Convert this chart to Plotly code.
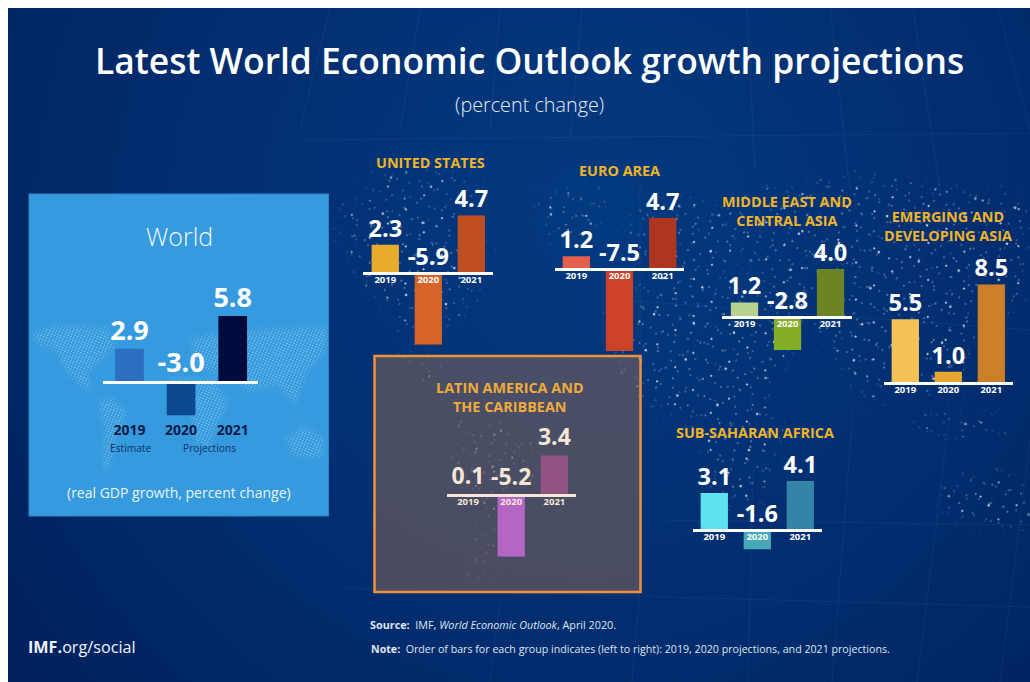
import base64
import plotly.graph_objects as go

W, H = 1030, 682
FONT = "Open Sans"

years = ["2019", "2020", "2021"]

world_values = [2.9, -3.0, 5.8]
united_states_values = [2.3, -5.9, 4.7]
euro_area_values = [1.2, -7.5, 4.7]
middle_east_values = [1.2, -2.8, 4.0]
emerging_asia_values = [5.5, 1.0, 8.5]
latin_america_values = [0.1, -5.2, 3.4]
sub_saharan_values = [3.1, -1.6, 4.1]

world_colors = ["#2a6fc0", "#0b4a90", "#000b3c"]
united_states_colors = ["#e8ab2c", "#d66428", "#bf4f20"]
euro_area_colors = ["#e4604d", "#cb4229", "#ae351f"]
middle_east_colors = ["#b7d28f", "#85ae28", "#6b8424"]
emerging_asia_colors = ["#f4c255", "#e5a72f", "#cc7f29"]
latin_america_colors = ["#b566c3", "#b566c3", "#925383"]
sub_saharan_colors = ["#5ee2ef", "#46a8b8", "#3484a8"]

# Page geometry of each small chart, in pixels: axis span, baseline height,
# pixels per percentage point, centre of the first bar, bar pitch and width.
panels = [
    dict(values=world_values, colors=world_colors, x0=103, x1=258, base=381.5, scale=11.3,
         first=129.5, pitch=51.6, width=28.7, label_size=27, tick_size=14, tick_color="#0a1a4a",
         tick_standoff=35, text_color="#ffffff", line_color="#ffffff", gap=2),
    dict(values=united_states_values, colors=united_states_colors, x0=363.3, x1=492.7, base=272.7, scale=12.2,
         first=385.3, pitch=43, width=27.3, label_size=23.5, tick_size=9.5, tick_color="#ffffff",
         tick_standoff=-3, text_color="#ffffff", line_color="#ffffff", gap=2),
    dict(values=euro_area_values, colors=euro_area_colors, x0=555, x1=684, base=269.3, scale=10.9,
         first=576.3, pitch=43.2, width=27.3, label_size=23.5, tick_size=9.5, tick_color="#ffffff",
         tick_standoff=-3, text_color="#ffffff", line_color="#ffffff", gap=2),
    dict(values=middle_east_values, colors=middle_east_colors, x0=722.3, x1=851.7, base=316.7, scale=11.9,
         first=744.5, pitch=43, width=27.3, label_size=23.5, tick_size=9.5, tick_color="#ffffff",
         tick_standoff=-3, text_color="#ffffff", line_color="#ffffff", gap=2),
    dict(values=emerging_asia_values, colors=emerging_asia_colors, x0=883.7, x1=1012.7, base=383.3, scale=11.65,
         first=905.3, pitch=43, width=27.3, label_size=23.5, tick_size=9.5, tick_color="#ffffff",
         tick_standoff=-3, text_color="#ffffff", line_color="#ffffff", gap=2),
    dict(values=latin_america_values, colors=latin_america_colors, x0=446.7, x1=575.7, base=495.3, scale=11.8,
         first=468, pitch=43.2, width=27.3, label_size=23, tick_size=9.5, tick_color="#f6e6d6",
         tick_standoff=-3, text_color="#f6e6d6", line_color="#f6e6d6", gap=0),
    dict(values=sub_saharan_values, colors=sub_saharan_colors, x0=692.7, x1=821.7, base=530.3, scale=12.0,
         first=714.3, pitch=43, width=27.3, label_size=23.5, tick_size=9.5, tick_color="#ffffff",
         tick_standoff=-3, text_color="#ffffff", line_color="#ffffff", gap=2),
]


def poly(points):
    return "M" + " L".join(f"{x},{y}" for x, y in points) + " Z"


# Rough continent outlines behind the charts, filled with dot patterns.
starfield_land = [
    [(340, 210), (400, 192), (465, 205), (488, 250), (482, 285), (450, 325), (428, 338), (412, 338), (398, 315), (370, 288), (345, 250)],
    [(355, 175), (430, 170), (495, 180), (465, 192), (385, 192)],
    [(392, 350), (426, 354), (446, 382), (430, 382)],
    [(535, 195), (595, 190), (604, 215), (575, 245), (550, 236)],
    [(455, 425), (498, 420), (538, 448), (528, 488), (500, 526), (486, 584), (474, 584), (484, 508), (460, 470)],
    [(612, 296), (690, 278), (782, 304), (792, 350), (762, 392), (782, 438), (762, 502), (734, 512), (706, 466), (696, 420), (646, 404), (616, 368)],
    [(628, 216), (698, 198), (752, 234), (716, 284), (656, 284)],
    [(728, 198), (850, 178), (1030, 198), (1030, 292), (974, 344), (954, 396), (930, 392), (902, 372), (872, 406), (846, 374), (816, 326), (766, 296)],
    [(900, 420), (996, 416), (1004, 434), (934, 434)],
    [(938, 494), (982, 472), (1030, 486), (1030, 532), (990, 524), (950, 518)],
]
inset_land = [
    [(30, 333), (60, 325), (108, 328), (116, 345), (100, 362), (88, 372), (92, 392), (82, 388), (66, 372), (55, 350), (38, 345)],
    [(98, 400), (112, 398), (127, 412), (118, 435), (108, 472), (103, 468), (104, 430)],
    [(190, 338), (240, 330), (327, 326), (327, 350), (306, 375), (296, 405), (276, 385), (252, 392), (234, 380), (215, 374), (195, 366)],
    [(168, 378), (215, 378), (228, 402), (208, 448), (196, 444), (190, 408), (172, 398)],
    [(285, 438), (305, 425), (325, 440), (322, 458), (292, 456)],
]
graticule = [
    ((582, 8), (570, 140)), ((747, 8), (755, 170)), ((830, 8), (850, 190)), ((913, 8), (940, 190)),
    ((998, 8), (1030, 130)), ((330, 8), (300, 130)), ((420, 8), (400, 130)), ((500, 8), (490, 130)),
    ((300, 140), (1030, 133)), ((753, 470), (748, 682)), ((853, 410), (832, 682)), ((950, 410), (917, 682)),
    ((660, 520), (1030, 525)), ((340, 588), (1030, 607)), ((640, 590), (632, 682)), ((500, 600), (490, 682)),
    ((1030, 440), (1000, 682)), ((620, 300), (1030, 330)), ((640, 180), (640, 350)),
]

star_path = " ".join(poly(p) for p in starfield_land)
inset_path = " ".join(poly(p) for p in inset_land)
grid_svg = "".join(
    f'<line x1="{a[0]}" y1="{a[1]}" x2="{b[0]}" y2="{b[1]}" stroke="#ffffff" stroke-opacity="0.05"/>'
    for a, b in graticule
)

background = f"""<svg xmlns="http://www.w3.org/2000/svg" width="{W}" height="{H}" viewBox="0 0 {W} {H}" preserveAspectRatio="none">
<defs>
<radialGradient id="sky" gradientUnits="userSpaceOnUse" cx="590" cy="220" r="720">
<stop offset="0" stop-color="#033a80"/><stop offset="0.55" stop-color="#022e70"/><stop offset="1" stop-color="#00215e"/>
</radialGradient>
<filter id="soft" x="-20%" y="-20%" width="140%" height="140%"><feGaussianBlur stdDeviation="8"/></filter>
<filter id="softer" x="-20%" y="-20%" width="140%" height="140%"><feGaussianBlur stdDeviation="2.5"/></filter>
<mask id="landmask" maskUnits="userSpaceOnUse" x="0" y="0" width="{W}" height="{H}">
<path d="{star_path}" fill="#ffffff" filter="url(#soft)"/>
</mask>
<mask id="insetmask" maskUnits="userSpaceOnUse" x="0" y="0" width="{W}" height="{H}">
<path d="{inset_path}" fill="#ffffff" filter="url(#softer)"/>
</mask>
<pattern id="d1" width="13" height="17" patternUnits="userSpaceOnUse" patternTransform="rotate(17)">
<circle cx="3" cy="4" r="0.8" fill="#fff" fill-opacity="0.55"/>
</pattern>
<pattern id="d2" width="23" height="29" patternUnits="userSpaceOnUse" patternTransform="rotate(-38)">
<circle cx="7" cy="9" r="1.1" fill="#fff" fill-opacity="0.8"/><circle cx="18" cy="2" r="0.7" fill="#e6dcd8" fill-opacity="0.45"/>
</pattern>
<pattern id="d3" width="31" height="19" patternUnits="userSpaceOnUse" patternTransform="rotate(61)">
<circle cx="21" cy="6" r="0.7" fill="#fff" fill-opacity="0.6"/><circle cx="6" cy="13" r="0.9" fill="#fff" fill-opacity="0.45"/>
</pattern>
<pattern id="d4" width="37" height="41" patternUnits="userSpaceOnUse" patternTransform="rotate(103)">
<circle cx="11" cy="30" r="1.3" fill="#fff" fill-opacity="0.75"/><circle cx="28" cy="12" r="0.8" fill="#fff" fill-opacity="0.5"/>
</pattern>
<pattern id="fine" width="3.1" height="2.7" patternUnits="userSpaceOnUse" patternTransform="rotate(23)">
<circle cx="1.5" cy="1.3" r="0.7" fill="#fff" fill-opacity="0.55"/>
</pattern>
</defs>
<rect width="{W}" height="{H}" fill="#ffffff"/>
<rect x="8" y="8" width="{W - 8}" height="{H - 8}" fill="url(#sky)"/>
{grid_svg}
<g mask="url(#landmask)">
<rect width="{W}" height="{H}" fill="url(#d1)"/><rect width="{W}" height="{H}" fill="url(#d2)"/>
<rect width="{W}" height="{H}" fill="url(#d3)"/><rect width="{W}" height="{H}" fill="url(#d4)"/>
</g>
<rect x="29" y="194" width="299.5" height="322" fill="#359ade" stroke="#2c86c6"/>
<g mask="url(#insetmask)"><rect x="29" y="194" width="299.5" height="322" fill="url(#fine)"/></g>
</svg>"""
background_uri = "data:image/svg+xml;base64," + base64.b64encode(background.encode()).decode()

fig = go.Figure()
layout_axes = {}

for i, p in enumerate(panels, start=1):
    suffix = "" if i == 1 else str(i)
    xname, yname = f"x{suffix}", f"y{suffix}"
    top = max(p["values"])
    bottom = min(min(p["values"]), 0)
    # The x axis floats at the zero level of its y axis, so the baseline and
    # the year labels cross the bars that hang below it.
    layout_axes[f"xaxis{suffix}"] = dict(
        domain=[p["x0"] / W, p["x1"] / W],
        anchor="free",
        position=1 - p["base"] / H,
        type="category",
        range=[(p["x0"] - p["first"]) / p["pitch"], (p["x1"] - p["first"]) / p["pitch"]],
        showgrid=False,
        zeroline=False,
        showline=True,
        linecolor=p["line_color"],
        linewidth=2.5,
        ticks="",
        ticklabelstandoff=p["tick_standoff"],
        tickfont=dict(family=FONT, size=p["tick_size"], color=p["tick_color"], weight=700),
    )
    layout_axes[f"yaxis{suffix}"] = dict(
        domain=[1 - (p["base"] - p["scale"] * bottom) / H, 1 - (p["base"] - p["scale"] * top) / H],
        anchor=xname,
        range=[bottom, top],
        visible=False,
    )
    fig.add_trace(go.Bar(
        x=years, y=p["values"], xaxis=xname, yaxis=yname,
        marker=dict(color=p["colors"], line=dict(width=0)),
        width=p["width"] / p["pitch"], showlegend=False,
    ))
    # Labels rest above the bar top, or above the baseline for negative bars;
    # the unseen marker holds them a few pixels clear.
    fig.add_trace(go.Scatter(
        x=years, y=[max(v, 0) for v in p["values"]], xaxis=xname, yaxis=yname,
        mode="markers+text", marker=dict(size=p["gap"], opacity=0),
        text=[f"{v:.1f}" for v in p["values"]], textposition="top center",
        textfont=dict(family=FONT, size=p["label_size"], color=p["text_color"], weight=700),
        cliponaxis=False, showlegend=False, hoverinfo="skip",
    ))


def note(text, x, y, size, color="#ffffff", weight=400, align="center", anchor="center"):
    return dict(text=text, x=x / W, y=1 - y / H, xref="paper", yref="paper", showarrow=False,
                xanchor=anchor, yanchor="middle", align=align,
                font=dict(family=FONT, size=size, color=color, weight=weight))


GOLD = "#f0b429"
annotations = [
    note("Latest World Economic Outlook growth projections", 529, 60, 35.4, weight=600),
    note("(percent change)", 529, 105, 19.8, color="#e6ecf5", weight=300),
    note("World", 179, 236, 25, color="#f2f8fd", weight=300),
    note("Estimate", 130, 448, 10.2, color="#14306a"),
    note("Projections", 209, 448, 10.2, color="#14306a"),
    note("(real GDP growth, percent change)", 179, 492, 14, color="#eaf4fb"),
    note("UNITED STATES", 430, 162.5, 14.4, color=GOLD, weight=700),
    note("EURO AREA", 619, 170, 14.4, color=GOLD, weight=700),
    note("MIDDLE EAST AND<br>CENTRAL ASIA", 787, 211, 14.4, color=GOLD, weight=700),
    note("EMERGING AND<br>DEVELOPING ASIA", 948, 226.5, 14.4, color=GOLD, weight=700),
    note("LATIN AMERICA AND<br>THE CARIBBEAN", 510, 397, 14.4, color="#eeab3c", weight=700),
    note("SUB-SAHARAN AFRICA", 755, 432, 14.4, color=GOLD, weight=700),
    note("<b>IMF.</b>org/social", 26, 647, 16.2, color="#f0f4f9", anchor="left"),
    note("<b>Source:</b>  IMF, <i>World Economic Outlook</i>, April 2020.", 368, 624, 10.8,
         color="#dfe6f0", anchor="left"),
    note("<b>Note:</b>  Order of bars for each group indicates (left to right): 2019, 2020 projections, and 2021 projections.",
         369, 649, 10.65, color="#dfe6f0", anchor="left"),
]

fig.update_layout(
    width=W, height=H,
    margin=dict(l=0, r=0, t=0, b=0),
    paper_bgcolor="#ffffff",
    plot_bgcolor="rgba(0,0,0,0)",
    barmode="overlay",
    showlegend=False,
    images=[dict(source=background_uri, xref="paper", yref="paper", x=0, y=1, sizex=1, sizey=1,
                 sizing="stretch", xanchor="left", yanchor="top", layer="below")],
    shapes=[dict(type="rect", xref="paper", yref="paper", layer="below",
                 x0=374.5 / W, x1=640.5 / W, y0=1 - 592 / H, y1=1 - 356 / H,
                 fillcolor="rgba(122,96,90,0.6)", line=dict(color="#f0913c", width=2.5))],
    annotations=annotations,
    **layout_axes,
)

fig.write_html("out.html")
